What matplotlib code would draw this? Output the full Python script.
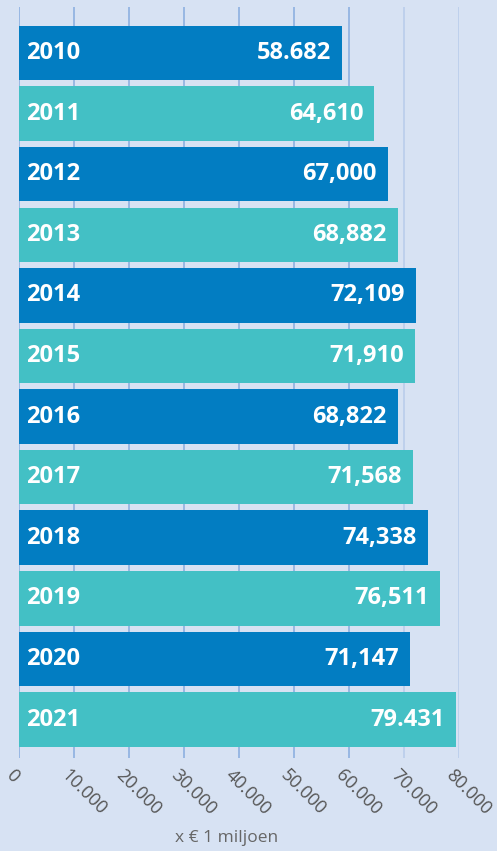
import matplotlib.pyplot as plt
import matplotlib.transforms as mtransforms
import numpy as np

# data
years = ['2010', '2011', '2012', '2013', '2014', '2015',
         '2016', '2017', '2018', '2019', '2020', '2021']
values = [58682, 64610, 67000, 68882, 72109, 71910,
          68822, 71568, 74338, 76511, 71147, 79431]
value_labels = ['58.682', '64,610', '67,000', '68,882', '72,109', '71,910',
                '68,822', '71,568', '74,338', '76,511', '71,147', '79.431']
ticks = [0, 10000, 20000, 30000, 40000, 50000, 60000, 70000, 80000]
tick_labels = ['0', '10.000', '20.000', '30.000', '40.000',
               '50.000', '60.000', '70.000', '80.000']

bg = '#D7E2F3'
dark = '#027DC2'
teal = '#43C0C5'

plt.rcParams['font.family'] = ['Open Sans', 'DejaVu Sans']

fig = plt.figure(figsize=(4.97, 8.51), dpi=100, facecolor=bg)
ax = fig.add_axes([19 / 497, 1 - 758 / 851, 440 / 497, 751 / 851])
ax.set_facecolor(bg)

y = np.arange(len(years))
colors = [dark if i % 2 == 0 else teal for i in range(len(years))]
ax.barh(y, values, height=0.9, color=colors, zorder=2)

# grid lines (darker on the left part)
grid_cols = ['#8DB0E0'] * 7 + ['#B9CDEB'] * 2
for t, c in zip(ticks, grid_cols):
    ax.axvline(t, color=c, lw=1.2, zorder=1)

for yi, yr, v, lab in zip(y, years, values, value_labels):
    ax.text(1200, yi, yr, color='white', fontsize=17, fontweight='bold',
            va='center', ha='left', zorder=3)
    ax.text(v - 2000, yi, lab, color='white', fontsize=17, fontweight='bold',
            va='center', ha='right', zorder=3)

ax.set_xlim(0, 80000)
ax.set_ylim(11.635, -0.76)
ax.set_yticks([])
ax.set_xticks(ticks)
ax.set_xticklabels(tick_labels, rotation=-45, ha='left', va='top',
                   rotation_mode='anchor', fontsize=13, color='#555555')
ax.tick_params(axis='x', length=0, pad=6)
# shift the slanted labels a little to the left, like the original
shift = mtransforms.ScaledTranslation(-4 / 100, 0, fig.dpi_scale_trans)
for lbl in ax.get_xticklabels():
    lbl.set_transform(lbl.get_transform() + shift)
for s in ax.spines.values():
    s.set_visible(False)

fig.text(227 / 497, 1 - 838 / 851, 'x € 1 miljoen', ha='center', va='center',
         fontsize=12.5, color='#666666')

fig.savefig('out.png', dpi=100, facecolor=bg)
